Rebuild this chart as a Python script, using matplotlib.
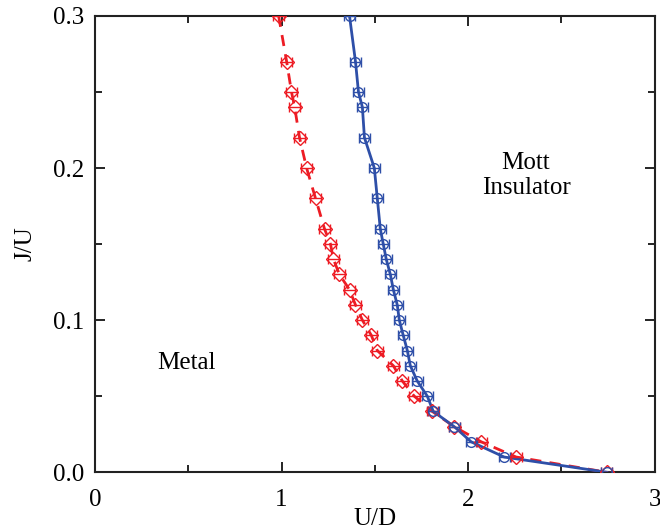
import matplotlib as mpl
import matplotlib.pyplot as plt
from matplotlib.ticker import MultipleLocator

mpl.rcParams['font.family'] = ['Liberation Serif', 'DejaVu Serif']
mpl.rcParams['mathtext.fontset'] = 'stix'

# J/U values shared by both curves
j_u = [0.30, 0.27, 0.25, 0.24, 0.22, 0.20, 0.18, 0.16, 0.15, 0.14, 0.13, 0.12,
       0.11, 0.10, 0.09, 0.08, 0.07, 0.06, 0.05, 0.04, 0.03, 0.02, 0.01, 0.00]

# metal boundary (red, dashed)
ud_metal = [0.984, 1.027, 1.053, 1.070, 1.096, 1.134, 1.182, 1.230, 1.262, 1.278,
            1.310, 1.364, 1.396, 1.433, 1.481, 1.513, 1.599, 1.647, 1.711, 1.807,
            1.925, 2.070, 2.257, 2.743]

# insulator boundary (blue, solid)
ud_ins = [1.364, 1.396, 1.412, 1.433, 1.444, 1.497, 1.513, 1.529, 1.545, 1.561,
          1.583, 1.599, 1.620, 1.631, 1.652, 1.674, 1.690, 1.727, 1.781, 1.813,
          1.925, 2.016, 2.193, 2.743]

x_err = 0.03

red = '#ED1C24'
blue = '#2E4FA8'

fig = plt.figure(figsize=(6.6, 5.3), dpi=100)
ax = fig.add_axes([0.144, 0.109, 0.848, 0.861])

ax.plot(ud_metal, j_u, color=red, linestyle=(0, (4, 3)), linewidth=2, zorder=3)
ax.errorbar(ud_metal, j_u, xerr=x_err, fmt='D', mfc='none', mec=red, ms=7.5,
            mew=1, ecolor=red, elinewidth=1, capsize=3.5, capthick=1, zorder=4)

ax.plot(ud_ins, j_u, color=blue, linewidth=2, zorder=3)
ax.errorbar(ud_ins, j_u, xerr=x_err, fmt='o', mfc='none', mec=blue, ms=7,
            mew=1, ecolor=blue, elinewidth=1, capsize=3.5, capthick=1, zorder=4)

ax.set_xlim(0, 3)
ax.set_ylim(0, 0.3)
ax.xaxis.set_major_locator(MultipleLocator(1))
ax.xaxis.set_minor_locator(MultipleLocator(0.5))
ax.yaxis.set_major_locator(MultipleLocator(0.1))
ax.yaxis.set_minor_locator(MultipleLocator(0.05))
ax.yaxis.set_major_formatter(mpl.ticker.FormatStrFormatter('%.1f'))

ax.tick_params(which='both', direction='in', top=True, right=True,
               labelsize=18, width=1.2)
ax.tick_params(which='major', length=7)
ax.tick_params(axis='x', which='major', pad=12)
ax.tick_params(axis='y', which='major', pad=8)
ax.tick_params(which='minor', length=5)
for s in ax.spines.values():
    s.set_linewidth(1.5)
    s.set_color('#222222')

ax.set_xlabel('U/D', fontsize=18, labelpad=-2)
ax.set_ylabel('J/U', fontsize=18, labelpad=12)

ax.text(0.49, 0.072, 'Metal', fontsize=18, ha='center', va='center')
ax.text(2.31, 0.195, 'Mott\nInsulator', fontsize=18, ha='center', va='center',
        linespacing=1.15)

fig.savefig('out.png', dpi=100)
